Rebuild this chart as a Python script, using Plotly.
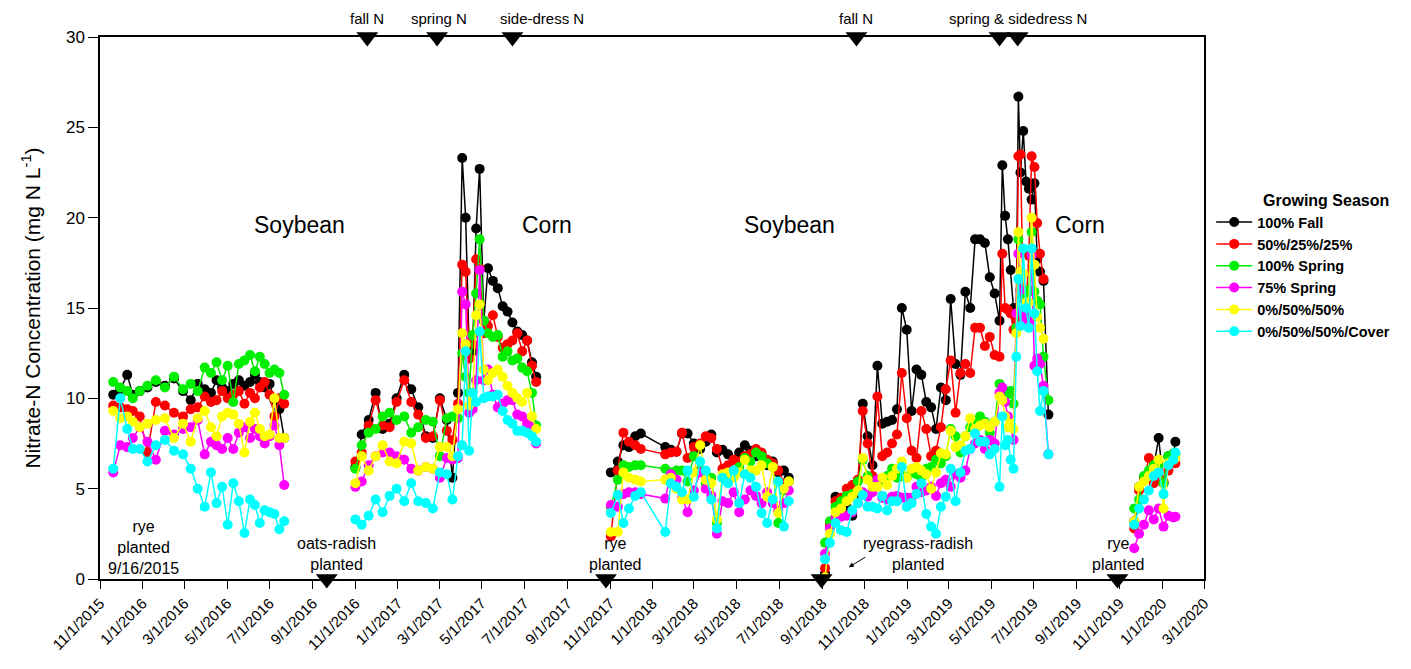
import plotly.graph_objects as go

# ---------------- data ----------------
seg1_dates = ["2015-11-20", "2015-11-30", "2015-12-10", "2015-12-18", "2015-12-28", "2016-01-08",
              "2016-01-20", "2016-02-02", "2016-02-15", "2016-02-28", "2016-03-10", "2016-03-20",
              "2016-03-30", "2016-04-08", "2016-04-16", "2016-04-24", "2016-05-02", "2016-05-10",
              "2016-05-18", "2016-05-26", "2016-06-03", "2016-06-10", "2016-06-17", "2016-06-24",
              "2016-07-01", "2016-07-08", "2016-07-15", "2016-07-22"]
seg2_dates = ["2016-11-01", "2016-11-10", "2016-11-20", "2016-11-30", "2016-12-10", "2016-12-20",
              "2016-12-30", "2017-01-10", "2017-01-20", "2017-01-30", "2017-02-10", "2017-02-20",
              "2017-03-02", "2017-03-12", "2017-03-20", "2017-03-28", "2017-04-03", "2017-04-08",
              "2017-04-13", "2017-04-18", "2017-04-23", "2017-04-28", "2017-05-04", "2017-05-10",
              "2017-05-17", "2017-05-24", "2017-05-31", "2017-06-07", "2017-06-14", "2017-06-21",
              "2017-06-28", "2017-07-05", "2017-07-12", "2017-07-18"]
seg3_dates = ["2017-11-02", "2017-11-12", "2017-11-20", "2017-11-28", "2017-12-07", "2017-12-15",
              "2018-01-19", "2018-01-27", "2018-02-04", "2018-02-12", "2018-02-20", "2018-03-01",
              "2018-03-10", "2018-03-18", "2018-03-26", "2018-04-03", "2018-04-11", "2018-04-19",
              "2018-04-27", "2018-05-05", "2018-05-13", "2018-05-21", "2018-05-29", "2018-06-06",
              "2018-06-14", "2018-06-22", "2018-06-30", "2018-07-08", "2018-07-15"]
seg4_dates = ["2018-09-05", "2018-09-12", "2018-09-20", "2018-09-28", "2018-10-06", "2018-10-14",
              "2018-10-22", "2018-10-29", "2018-11-05", "2018-11-12", "2018-11-19", "2018-11-26",
              "2018-12-03", "2018-12-10", "2018-12-17", "2018-12-24", "2018-12-31", "2019-01-07",
              "2019-01-14", "2019-01-21", "2019-01-28", "2019-02-04", "2019-02-11", "2019-02-18",
              "2019-02-25", "2019-03-04", "2019-03-11", "2019-03-18", "2019-03-25", "2019-04-01",
              "2019-04-08", "2019-04-15", "2019-04-22", "2019-04-29", "2019-05-06", "2019-05-13",
              "2019-05-17", "2019-05-21", "2019-05-25", "2019-05-29", "2019-06-02", "2019-06-06",
              "2019-06-09", "2019-06-12", "2019-06-16", "2019-06-20", "2019-06-24", "2019-06-28",
              "2019-07-02", "2019-07-06", "2019-07-10", "2019-07-15", "2019-07-22"]
seg5_dates = ["2019-11-22", "2019-11-29", "2019-12-06", "2019-12-13", "2019-12-20", "2019-12-27",
              "2020-01-03", "2020-01-10", "2020-01-17", "2020-01-20"]

fall100 = [
    [10.2, 10.5, 11.3, 10.2, 10.4, 10.6, 10.9, 10.7, 11.1, 10.4, 9.9, 10.8, 10.5, 10.3, 11.0, 10.6,
     10.4, 10.8, 11.0, 10.7, 10.9, 11.3, 10.9, 10.6, 10.8, 9.9, 9.4, 7.8],
    [6.2, 8.0, 8.8, 10.3, 8.3, 8.6, 10.0, 11.3, 10.5, 9.5, 7.9, 7.8, 10.0, 8.8, 5.6, 10.3, 23.3, 20.0,
     12.7, 12.6, 19.4, 22.7, 14.3, 17.2, 16.5, 16.1, 15.1, 14.8, 14.2, 13.7, 13.5, 13.2, 12.0, 11.2],
    [5.9, 6.5, 7.4, 7.3, 7.9, 8.05, 7.3, 7.15, 7.05, 8.05, 8.05, 7.5, 7.2, 7.6, 8.0, 7.0, 7.15, 6.9,
     6.6, 7.0, 7.4, 7.1, 6.8, 6.9, 6.3, 6.5, 5.9, 6.0, 5.6],
    [0.3, 3.0, 4.55, 4.4, 4.0, 3.5, 4.6, 9.7, 7.9, 6.3, 11.8, 8.6, 8.7, 8.8, 9.4, 15.0, 13.8, 9.3,
     11.6, 11.3, 9.8, 9.5, 8.3, 10.6, 9.9, 15.5, 11.9, 11.3, 15.9, 15.0, 18.8, 18.8, 18.6, 16.7, 15.8,
     14.3, 22.9, 20.1, 18.8, 17.1, 15.0, 14.6, 26.7, 22.5, 24.8, 22.0, 21.6, 21.0, 21.9, 17.7, 17.0,
     16.5, 9.1],
    [3.2, 5.1, 5.6, 5.8, 6.2, 7.8, 5.3, 6.8, 6.9, 7.6],
]
split_50_25_25 = [
    [9.6, 9.5, 9.4, 9.3, 9.0, 7.0, 9.8, 9.6, 9.2, 9.0, 9.4, 9.5, 10.1, 9.8, 9.9, 10.4, 10.0, 10.2,
     10.4, 9.7, 10.3, 10.0, 10.6, 10.9, 10.2, 9.0, 10.0, 9.7],
    [6.5, 7.0, 8.5, 9.9, 8.5, 8.4, 9.8, 11.0, 9.8, 9.1, 7.8, 7.9, 9.9, 8.2, 7.7, 9.7, 17.4, 17.0,
     12.2, 13.0, 17.7, 17.2, 13.6, 14.0, 14.6, 13.4, 12.8, 13.0, 13.2, 13.6, 12.6, 13.2, 11.8, 10.9],
    [2.35, 6.0, 8.1, 7.6, 7.4, 7.2, 6.9, 7.0, 7.05, 8.1, 6.7, 7.3, 7.5, 7.9, 7.8, 7.2, 6.1, 6.3, 6.6,
     6.5, 6.8, 6.9, 7.2, 7.0, 6.6, 6.4, 6.0, 5.3, 5.4],
    [0.6, 3.0, 4.3, 4.5, 5.0, 5.2, 5.5, 9.3, 7.5, 5.7, 10.1, 6.8, 7.0, 7.5, 8.0, 11.4, 8.9, 7.1, 6.7,
     9.3, 8.3, 6.8, 7.1, 8.4, 10.5, 12.1, 9.2, 11.4, 11.9, 11.4, 13.9, 13.9, 12.9, 13.4, 12.4, 12.3,
     18.0, 15.0, 14.9, 14.7, 13.8, 14.3, 23.4, 23.5, 15.5, 15.0, 17.9, 23.4, 22.8, 19.7, 18.0, 16.6,
     None],
    [2.8, 4.9, 5.5, 6.7, 5.3, 5.6, 5.4, 6.0, 6.6, 6.4],
]
spring100 = [
    [10.9, 10.6, 10.4, 10.0, 10.4, 10.7, 11.0, 10.6, 11.2, 10.5, 10.8, 10.4, 11.7, 11.4, 12.0, 11.0,
     11.8, 9.8, 11.9, 12.1, 12.4, 11.5, 12.3, 11.9, 11.4, 11.6, 11.4, 10.2],
    [6.1, 7.4, 8.1, 8.3, 9.0, 9.2, 8.8, 9.0, 8.1, 8.4, 8.8, 8.7, 6.8, 8.9, 9.0, 8.9, 12.5, 11.2, 10.3,
     13.5, 15.8, 18.8, 14.3, 13.6, 13.4, 13.5, 12.3, 12.6, 12.1, 12.2, 11.7, 11.5, 10.3, 8.5],
    [4.0, 5.5, 6.3, 6.2, 6.3, 6.3, 6.1, 5.9, 6.0, 6.0, 5.4, 6.8, 6.0, 5.3, 5.6, 3.1, 5.6, 5.7, 5.8,
     6.2, 6.7, 6.5, 7.0, 6.8, 6.4, 6.2, 3.1, 4.9, 5.4],
    [2.0, 3.2, 4.0, 4.3, 4.6, 4.7, 5.4, 6.6, 5.7, 5.3, 5.3, 5.5, 5.7, 6.1, 5.6, 5.7, 5.6, 5.9, 5.8,
     5.6, 6.1, 6.2, 6.6, 6.4, 6.8, 8.3, 7.9, 7.0, 7.9, 8.4, 8.6, 9.0, 8.7, 8.1, 8.7, 10.8, 10.0, 10.4,
     10.2, 10.4, 9.7, 13.9, 18.8, 16.0, 15.7, 14.5, 16.0, 19.2, 15.9, 15.4, 15.2, 12.3, 9.9],
    [3.9, 4.4, 5.7, 6.0, 6.3, 6.3, 5.3, 6.8, 6.95, 6.9],
]
spring75 = [
    [5.9, 7.4, 7.3, 7.8, 8.4, 7.6, 6.6, 8.2, 8.0, 8.3, 8.4, 8.8, 6.9, 7.6, 7.4, 7.2, 7.8, 7.2, 8.1,
     8.4, 7.8, 8.3, 7.9, 7.5, 7.9, 8.5, 7.4, 5.2],
    [5.1, 5.4, 6.3, 6.8, 7.0, 7.0, 6.8, 6.6, 6.1, 6.0, 6.2, 6.1, 5.6, 6.7, 6.6, 6.7, 15.9, 15.2, 9.2,
     9.4, 11.0, 17.1, 11.0, 11.6, 10.2, 9.5, 9.7, 9.9, 9.9, 9.1, 9.0, 8.6, 8.4, 7.5],
    [4.1, 4.0, 4.7, 4.8, 4.8, 4.7, 4.45, 5.8, 5.5, 4.5, 3.7, 4.9, 5.9, 5.0, 4.6, 2.5, 4.3, 4.2, 4.8,
     3.7, 4.4, 4.9, 4.6, 4.2, 4.8, 4.2, 3.8, 4.2, 4.9],
    [1.4, 2.8, 3.4, 3.45, 3.5, 3.7, 4.2, 4.8, 4.55, 4.8, 5.5, 4.5, 4.4, 4.55, 4.6, 4.5, 4.5, 4.5, 5.1,
     4.8, 4.9, 5.1, 4.6, 5.3, 5.5, 5.1, 5.8, 5.6, 6.0, 7.2, 7.5, 7.7, 7.2, 7.7, 7.5, 10.3, 10.6, 9.8,
     9.0, 8.5, 7.7, 14.7, 18.0, 16.0, 14.7, 14.3, 14.3, 17.9, 11.8, 12.2, 11.9, 10.7, 6.9],
    [1.7, 2.5, 3.0, 3.8, 3.3, 3.9, 2.9, 3.5, 3.4, 3.45],
]
split_0_50_50 = [
    [9.3, 8.9, 9.0, 8.7, 8.4, 8.6, 8.8, 8.9, 7.8, 8.6, 7.6, 8.9, 9.3, 8.4, 7.9, 9.0, 9.2, 9.1, 8.6,
     7.0, 8.7, 9.2, 8.3, 7.9, 8.0, 10.0, 7.8, 7.8],
    [5.3, 6.8, 6.0, 6.8, 7.4, 6.5, 6.4, 7.6, 7.5, 6.0, 6.2, 6.1, 7.3, 7.3, 6.8, 9.4, 13.6, 13.0, 9.6,
     10.0, 14.6, 15.2, 11.6, 11.0, 11.4, 11.6, 11.2, 10.7, 10.3, 10.0, 9.8, 10.3, 9.0, 8.3],
    [2.6, 2.6, 5.9, 5.6, 5.5, 5.4, 5.5, 5.6, 5.0, 4.4, 4.4, 5.9, 7.4, 5.5, 5.3, 3.3, 5.8, 5.9, 5.6,
     5.9, 6.6, 6.0, 6.0, 6.3, 4.55, 6.2, 3.65, 5.0, 5.4],
    [0.1, 2.5, 3.7, 3.9, 4.3, 4.55, 4.9, 6.7, 5.5, 5.1, 5.1, 5.6, 5.2, 5.7, 6.1, 6.5, 5.6, 6.1, 6.2,
     6.0, 5.8, 5.0, 5.9, 6.96, 6.9, 8.2, 7.3, 7.4, 7.9, 8.9, 8.3, 8.5, 8.6, 8.4, 8.7, 10.1, 9.9, 9.0,
     8.4, 8.6, 8.3, 13.6, 19.2, 17.0, 16.9, 15.3, 15.3, 20.0, 17.4, 14.5, 13.9, 13.3, None],
    [3.2, 5.1, 5.4, 5.7, 6.1, 6.6, 3.9, 6.4, 6.6, 6.7],
]
split_0_50_50_cover = [
    [6.1, 10.0, 8.3, 7.2, 7.2, 6.5, 7.4, 7.7, 7.1, 6.9, 6.1, 5.0, 4.0, 5.9, 4.2, 5.1, 3.0, 5.3, 4.3,
     2.55, 4.4, 4.1, 3.1, 3.8, 3.7, 3.6, 2.75, 3.2],
    [3.3, 3.0, 3.5, 4.4, 3.7, 4.6, 5.0, 4.3, 5.3, 4.3, 4.2, 3.9, 5.9, 5.8, 4.4, 6.8, 7.4, 12.6, 7.1,
     10.3, 9.8, 13.7, 10.0, 10.1, 10.1, 10.2, 9.3, 8.8, 8.6, 8.2, 8.2, 8.1, 7.9, 7.6],
    [3.65, 4.65, 3.1, 3.9, 4.6, 4.8, 2.6, 5.3, 5.1, 4.8, 6.0, 4.55, 6.5, 6.0, 4.4, 2.8, 5.6, 5.3, 6.0,
     4.2, 5.8, 5.6, 5.1, 3.65, 3.1, 4.4, 5.4, 2.9, 4.3],
    [1.1, 2.0, 3.1, 2.7, 2.6, 3.8, 4.2, 4.65, 4.0, 4.0, 3.9, 4.6, 3.8, 4.3, 4.3, 6.2, 4.0, 4.2, 4.7,
     5.3, 3.6, 2.9, 2.5, 4.0, 4.55, 6.1, 4.3, 5.9, 7.1, 7.2, 8.06, 7.6, 7.6, 6.9, 7.2, 5.1, 9.0, 7.4,
     7.7, 6.6, 6.1, 12.3, 16.6, 14.0, 18.3, 15.0, 13.9, 18.3, 14.7, 11.5, 9.3, 10.4, 6.9],
    [3.0, 3.9, 4.4, 4.9, 5.7, 5.9, 4.7, 6.3, 6.6, 7.0],
]

series_names = ["100% Fall", "50%/25%/25%", "100% Spring", "75% Spring", "0%/50%/50%", "0%/50%/50%/Cover"]
series_values = [fall100, split_50_25_25, spring100, spring75, split_0_50_50, split_0_50_50_cover]
series_colors = ["#000000", "#ff0000", "#00ee00", "#ff00ff", "#ffff00", "#00ffff"]

tick_dates = ["2015-11-01", "2016-01-01", "2016-03-01", "2016-05-01", "2016-07-01", "2016-09-01",
              "2016-11-01", "2017-01-01", "2017-03-01", "2017-05-01", "2017-07-01", "2017-09-01",
              "2017-11-01", "2018-01-01", "2018-03-01", "2018-05-01", "2018-07-01", "2018-09-01",
              "2018-11-01", "2019-01-01", "2019-03-01", "2019-05-01", "2019-07-01", "2019-09-01",
              "2019-11-01", "2020-01-01", "2020-03-01"]
tick_labels = ["11/1/2015", "1/1/2016", "3/1/2016", "5/1/2016", "7/1/2016", "9/1/2016",
               "11/1/2016", "1/1/2017", "3/1/2017", "5/1/2017", "7/1/2017", "9/1/2017",
               "11/1/2017", "1/1/2018", "3/1/2018", "5/1/2018", "7/1/2018", "9/1/2018",
               "11/1/2018", "1/1/2019", "3/1/2019", "5/1/2019", "7/1/2019", "9/1/2019",
               "11/1/2019", "1/1/2020", "3/1/2020"]

# management events
n_event_dates = ["2016-11-18", "2017-02-26", "2017-06-14", "2018-10-20", "2019-05-13", "2019-06-08"]
plant_event_dates = ["2016-09-21", "2017-10-26", "2018-08-31", "2019-10-29"]

crop_labels = ["Soybean", "Corn", "Soybean", "Corn"]
crop_label_dates = ["2016-08-13", "2017-08-03", "2018-07-16", "2019-09-06"]

top_labels = ["fall N", "spring N", "side-dress N", "fall N", "spring & sidedress N"]
top_label_dates = ["2016-11-18", "2017-03-01", "2017-07-27", "2018-10-20", "2019-06-08"]

bottom_labels = ["rye<br>planted<br>9/16/2015", "oats-radish<br>planted", "rye<br>planted",
                 "ryegrass-radish<br>planted", "rye<br>planted"]
bottom_label_dates = ["2016-01-03", "2016-10-05", "2017-11-08", "2019-01-16", "2019-10-31"]
bottom_label_y = [1.77, 1.38, 1.38, 1.38, 1.38]

FONT = "Liberation Sans, Arial, sans-serif"

# ---------------- build ----------------
segments_dates = [seg1_dates, seg2_dates, seg3_dates, seg4_dates, seg5_dates]


def join(parts):
    out = []
    for i, p in enumerate(parts):
        if i:
            out.append(None)
        out.extend(p)
    return out


x_all = join(segments_dates)

fig = go.Figure()
for name, vals, col in zip(series_names, series_values, series_colors):
    fig.add_trace(go.Scatter(
        x=x_all, y=join(vals), name=name, mode="lines+markers",
        line=dict(color=col, width=1.5),
        marker=dict(color=col, size=10),
        cliponaxis=False, connectgaps=False,
    ))

fig.add_trace(go.Scatter(
    x=n_event_dates, y=[30] * len(n_event_dates), mode="markers",
    marker=dict(symbol="triangle-down", size=19, color="black"),
    cliponaxis=False, showlegend=False, hoverinfo="skip"))
fig.add_trace(go.Scatter(
    x=plant_event_dates, y=[0] * len(plant_event_dates), mode="markers",
    marker=dict(symbol="triangle-down", size=19, color="black"),
    cliponaxis=False, showlegend=False, hoverinfo="skip"))

annotations = []
for t, d in zip(crop_labels, crop_label_dates):
    annotations.append(dict(x=d, y=19.6, xref="x", yref="y", text=t, showarrow=False,
                            font=dict(family=FONT, size=23, color="black")))
for t, d in zip(top_labels, top_label_dates):
    annotations.append(dict(x=d, y=1.0, xref="x", yref="paper", yshift=19, text=t, showarrow=False,
                            yanchor="middle", font=dict(family=FONT, size=15, color="black")))
for t, d, yv in zip(bottom_labels, bottom_label_dates, bottom_label_y):
    annotations.append(dict(x=d, y=yv, xref="x", yref="y", text=t, showarrow=False,
                            yanchor="middle", font=dict(family=FONT, size=16, color="black")))
# arrow for ryegrass-radish
annotations.append(dict(x="2018-10-09", y=0.65, xref="x", yref="y", ax=18, ay=-11,
                        axref="pixel", ayref="pixel", text="", showarrow=True,
                        arrowhead=2, arrowsize=1, arrowwidth=1, arrowcolor="black"))
# legend title
annotations.append(dict(x=1.0, xref="paper", xshift=57, y=0.699, yref="paper",
                        text="<b>Growing Season</b>",
                        showarrow=False, xanchor="left", yanchor="middle",
                        font=dict(family=FONT, size=16, color="black")))

fig.update_layout(
    width=1411, height=669, autosize=False,
    margin=dict(l=100, r=207, t=37, b=90),
    paper_bgcolor="white", plot_bgcolor="white",
    font=dict(family=FONT, color="black"),
    showlegend=True,
    legend=dict(x=1.0065, xanchor="left", xref="paper", y=0.688, yanchor="top",
                font=dict(family=FONT, size=14.5, color="black", weight="bold"),
                bgcolor="rgba(0,0,0,0)", tracegroupgap=0, itemwidth=36),
    annotations=annotations,
    xaxis=dict(type="date", range=["2015-11-01", "2020-03-01"],
               tickvals=tick_dates, ticktext=tick_labels, tickangle=-45,
               tickfont=dict(family=FONT, size=15, color="black"),
               ticks="outside", ticklen=8, tickwidth=1, tickcolor="black",
               showline=True, linecolor="black", linewidth=1.5, mirror=True,
               showgrid=False, zeroline=False),
    yaxis=dict(range=[0, 30], tickvals=[0, 5, 10, 15, 20, 25, 30],
               tickfont=dict(family=FONT, size=17, color="black"),
               ticks="outside", ticklen=10, tickwidth=1, tickcolor="black",
               showline=True, linecolor="black", linewidth=1.5, mirror=True,
               showgrid=False, zeroline=False,
               title=dict(text="Nitrate-N Concentration (mg N L<sup>-1</sup>)",
                          font=dict(family=FONT, size=21, color="black"), standoff=20)),
)

fig.write_html("out.html")
